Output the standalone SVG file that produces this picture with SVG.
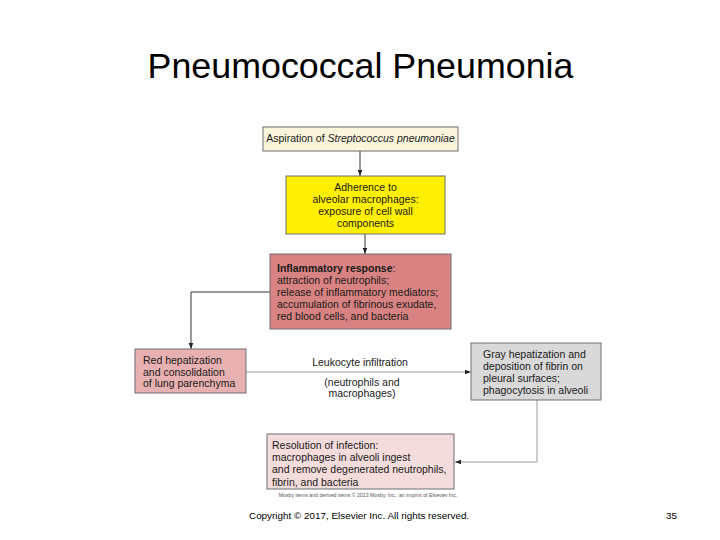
<svg xmlns="http://www.w3.org/2000/svg" width="720" height="540" viewBox="0 0 720 540">
<defs>
<style>
.box{stroke:#6f6f6f;stroke-width:1}
.t{font-family:"Liberation Sans",Arial,sans-serif;font-size:10.5px;fill:#1a1a1a}
.c{text-anchor:middle}
.conn{fill:none;stroke:#333;stroke-width:1}
.connG{fill:none;stroke:#9a9a9a;stroke-width:1}
</style>
<marker id="ah" viewBox="0 0 8 8" refX="8" refY="4" markerWidth="6" markerHeight="6" markerUnits="userSpaceOnUse" orient="auto">
<path d="M0,1 L8,4 L0,7 Z" fill="#222"/>
</marker>
</defs>
<rect width="720" height="540" fill="#ffffff"/>
<text x="360.5" y="78" text-anchor="middle" font-family="'Liberation Sans',Arial,sans-serif" font-size="35.8" fill="#000">Pneumococcal Pneumonia</text>

<g id="connectors">
<line class="conn" x1="360" y1="151" x2="360" y2="176" marker-end="url(#ah)"/>
<line class="conn" x1="365" y1="234" x2="365" y2="254" marker-end="url(#ah)"/>
<polyline class="conn" points="270,292 191,292 191,349" marker-end="url(#ah)"/>
<line class="connG" x1="246" y1="372" x2="471" y2="372" marker-end="url(#ah)"/>
<polyline class="connG" points="537,400 537,462 455,462" marker-end="url(#ah)"/>
<g id="edge-label">
<text class="t c" x="360" y="366">Leukocyte infiltration</text>
<text class="t c" x="362" y="386">(neutrophils and</text>
<text class="t c" x="362" y="397">macrophages)</text>
</g>
</g>

<g id="n1">
<rect class="box" x="263" y="127" width="195" height="24" fill="#fbf5dc"/>
<text class="t c" x="360.5" y="142">Aspiration of <tspan font-style="italic">Streptococcus pneumoniae</tspan></text>
</g>

<g id="n2">
<rect class="box" x="286" y="176" width="159" height="58" fill="#fff000"/>
<text class="t c" x="365.5" y="191">Adherence to</text>
<text class="t c" x="365.5" y="203">alveolar macrophages:</text>
<text class="t c" x="365.5" y="215">exposure of cell wall</text>
<text class="t c" x="365.5" y="227">components</text>
</g>

<g id="n3">
<rect class="box" x="270" y="254" width="181" height="75" fill="#d88282"/>
<text class="t" x="277" y="272"><tspan font-weight="bold">Inflammatory response</tspan>:</text>
<text class="t" x="277" y="284">attraction of neutrophils;</text>
<text class="t" x="277" y="296">release of inflammatory mediators;</text>
<text class="t" x="277" y="308">accumulation of fibrinous exudate,</text>
<text class="t" x="277" y="320">red blood cells, and bacteria</text>
</g>

<g id="n4">
<rect class="box" x="135" y="349" width="111" height="44" fill="#e8b1b1"/>
<text class="t" x="143" y="364">Red hepatization</text>
<text class="t" x="143" y="376">and consolidation</text>
<text class="t" x="143" y="387">of lung parenchyma</text>
</g>

<g id="n5">
<rect class="box" x="471" y="343" width="130" height="57" fill="#d9d9d9"/>
<text class="t" x="483" y="358">Gray hepatization and</text>
<text class="t" x="483" y="370">deposition of fibrin on</text>
<text class="t" x="483" y="382">pleural surfaces;</text>
<text class="t" x="483" y="394">phagocytosis in alveoli</text>
</g>

<g id="n6">
<rect class="box" x="267" y="434" width="187" height="55" fill="#f4dcdc"/>
<text class="t" x="272" y="449">Resolution of infection:</text>
<text class="t" x="272" y="461">macrophages in alveoli ingest</text>
<text class="t" x="272" y="473">and remove degenerated neutrophils,</text>
<text class="t" x="272" y="486">fibrin, and bacteria</text>
</g>

<text x="368" y="497" text-anchor="middle" font-family="'Liberation Sans',Arial,sans-serif" font-size="5.2" fill="#555">Mosby items and derived items © 2013 Mosby, Inc., an imprint of Elsevier Inc.</text>
<text x="249" y="519" font-family="'Liberation Sans',Arial,sans-serif" font-size="9.9" fill="#000">Copyright © 2017, Elsevier Inc. All rights reserved.</text>
<text x="666" y="519" font-family="'Liberation Sans',Arial,sans-serif" font-size="9.9" fill="#000">35</text>
</svg>
